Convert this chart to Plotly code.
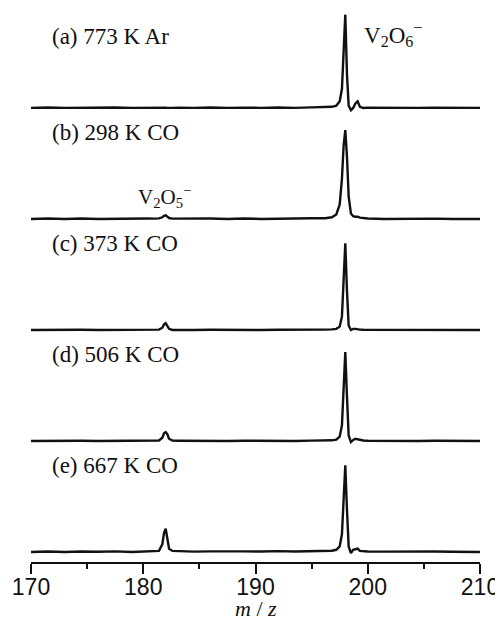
import plotly.graph_objects as go

# m/z sampling points
mz = [170, 171.5, 173, 174.5, 176, 177.5, 179, 180.3, 181.0, 181.4, 181.7, 181.85, 182.0, 182.15,
      182.3, 182.6, 183.2, 184.5, 186, 187.5, 189, 190.5, 192, 193.5, 195, 196.2, 196.8, 197.2,
      197.5, 197.7, 197.85, 198.0, 198.15, 198.3, 198.5, 198.7, 198.9, 199.1, 199.3, 199.6, 200,
      201.5, 203, 204.5, 206, 207.5, 209, 210]

int_a = [0, 0.004, 0, 0.003, 0, 0.004, 0, 0.003, 0, 0.002, 0, 0.002, 0.003, 0,
         0.002, 0, 0.003, 0, 0.004, 0, 0.003, 0, 0.004, 0, 0.005, 0.005, 0.01, 0.02,
         0.06, 0.17, 0.45, 0.84, 0.30, 0.02, -0.02, 0.0, 0.04, 0.06, 0.01, 0.0, 0.003,
         0, 0.002, 0, 0.002, 0, 0.002, 0]
int_b = [0, 0.004, 0, 0.004, 0, 0.003, 0, 0.004, 0.003, 0.005, 0.015, 0.028, 0.032, 0.022,
         0.008, 0.003, 0.004, 0, 0.004, 0, 0.004, 0, 0.005, 0.004, 0.006, 0.006, 0.015, 0.04,
         0.13, 0.36, 0.66, 0.80, 0.56, 0.20, 0.05, 0.025, 0.02, 0.02, 0.012, 0.006, 0.004,
         0, 0.003, 0, 0.003, 0, 0.003, 0]
int_c = [0, 0.002, 0, 0.002, 0, 0.002, 0, 0.002, 0, 0.003, 0.02, 0.05, 0.06, 0.04,
         0.01, 0.0, 0.002, 0, 0.002, 0, 0.002, 0, 0.002, 0, 0.003, 0.003, 0.005, 0.01,
         0.03, 0.12, 0.45, 0.78, 0.35, 0.04, 0.0, 0.01, 0.01, 0.005, 0.003, 0.002, 0.002,
         0, 0.002, 0, 0.002, 0, 0.002, 0]
int_d = [0, 0.002, 0, 0.002, 0, 0.002, 0, 0.002, 0.002, 0.005, 0.03, 0.07, 0.08, 0.06,
         0.02, 0.003, 0.002, 0, 0.002, 0, 0.002, 0, 0.002, 0, 0.003, 0.004, 0.006, 0.012,
         0.04, 0.14, 0.50, 0.80, 0.40, 0.05, -0.01, 0.01, 0.02, 0.015, 0.01, 0.004, 0.002,
         0, 0.002, 0, 0.002, 0, 0.002, 0]
int_e = [0, 0.005, 0, 0.005, 0.002, 0.006, 0, 0.006, 0.004, 0.01, 0.07, 0.17, 0.21, 0.12,
         0.03, 0.01, 0.006, 0.003, 0.006, 0.003, 0.006, 0.004, 0.008, 0.005, 0.008, 0.008, 0.012, 0.02,
         0.05, 0.16, 0.50, 0.78, 0.38, 0.05, -0.01, 0.02, 0.025, 0.03, 0.01, 0.008, 0.005,
         0.003, 0.005, 0.002, 0.005, 0.002, 0.004, 0]

spectra = [int_a, int_b, int_c, int_d, int_e]
panel_labels = ["(a) 773 K Ar", "(b) 298 K CO", "(c) 373 K CO", "(d) 506 K CO", "(e) 667 K CO"]
offsets = [4, 3, 2, 1, 0]

x_ticks = [170, 180, 190, 200, 210]
x_minor = [175, 185, 195, 205]

fig = go.Figure()
for vals, off in zip(spectra, offsets):
    fig.add_trace(go.Scatter(
        x=mz, y=[v + off for v in vals], mode="lines",
        line=dict(color="#111111", width=2.4), showlegend=False, hoverinfo="skip"))

serif = "Liberation Serif, Times New Roman, serif"
annotations = []
label_y = [4.64, 3.78, 2.78, 1.78, 0.78]
for lab, ly in zip(panel_labels, label_y):
    annotations.append(dict(x=171.7, y=ly, xref="x", yref="y", text=lab, showarrow=False,
                            xanchor="left", yanchor="middle",
                            font=dict(family=serif, size=23, color="#111111")))
annotations.append(dict(x=199.5, y=4.66, xref="x", yref="y",
                        text="V<sub>2</sub>O<sub>6</sub><sup>\u2212</sup>", showarrow=False,
                        xanchor="left", yanchor="middle",
                        font=dict(family=serif, size=23, color="#111111")))
annotations.append(dict(x=181.9, y=3.2, xref="x", yref="y",
                        text="V<sub>2</sub>O<sub>5</sub><sup>\u2212</sup>", showarrow=False,
                        xanchor="center", yanchor="middle",
                        font=dict(family=serif, size=21, color="#111111")))
annotations.append(dict(x=0.5, y=0, xref="paper", yref="paper", yshift=-46,
                        text="<i>m</i> / <i>z</i>", showarrow=False,
                        xanchor="center", yanchor="middle",
                        font=dict(family=serif, size=22, color="#111111")))

fig.update_layout(
    width=495, height=614,
    margin=dict(l=23, r=23, t=0, b=60),
    paper_bgcolor="white", plot_bgcolor="white",
    annotations=annotations,
    xaxis=dict(range=[170, 210], tickvals=x_ticks, ticktext=[str(t) for t in x_ticks],
               ticks="outside", ticklen=10, tickwidth=2, tickcolor="#111111",
               ticklabelstandoff=-7,
               showline=True, linecolor="#111111", linewidth=2,
               showgrid=False, zeroline=False,
               minor=dict(tickvals=x_minor, ticks="outside", ticklen=5,
                          tickwidth=2, tickcolor="#111111", showgrid=False),
               tickfont=dict(family="Liberation Sans, Arial, sans-serif", size=23, color="#111111")),
    yaxis=dict(range=[-0.09, 4.9], visible=False, showgrid=False, zeroline=False),
)

fig.write_html("out.html")
